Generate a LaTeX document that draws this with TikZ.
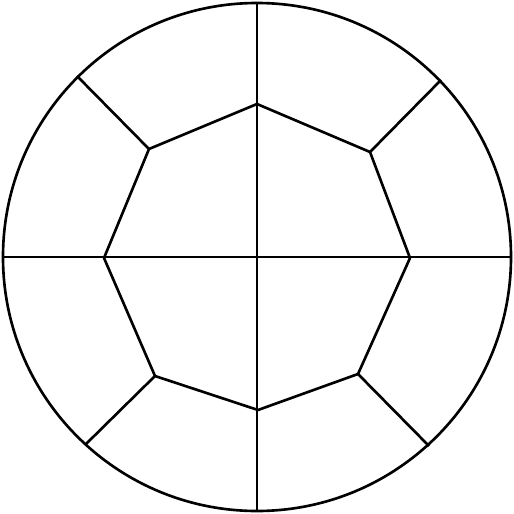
\documentclass[tikz,border=0pt]{standalone}
\usetikzlibrary{calc}

\begin{document}
\begin{tikzpicture}[x=0.02cm,y=-0.02cm,line width=1.5pt,line join=round]
\useasboundingbox (0,0) rectangle (514,514);
\coordinate (O) at (257,257);
% outer ring and the two diameters
\draw (O) circle[radius=254*0.02cm];
\coordinate (N) at (257,3);
\coordinate (S) at (257,511);
\coordinate (W) at (3,257);
\coordinate (E) at (511,257);
\draw (N)--(S) (W)--(E);
% inner octagon
\coordinate (pT) at (257,104);
\coordinate (pUR) at (370,152);
\coordinate (pR) at (410,258);
\coordinate (pLR) at (358,374);
\coordinate (pB) at (258,410);
\coordinate (pLL) at (155,376);
\coordinate (pL) at (104,258);
\coordinate (pUL) at (149,149);
\draw (pT)--(pUR)--(pR)--(pLR)--(pB)--(pLL)--(pL)--(pUL)--cycle;
% diagonal spokes out to the ring
\coordinate (qUL) at (77,76);
\coordinate (qUR) at (441,80);
\coordinate (qLL) at (86,444);
\coordinate (qLR) at (429,446);
\draw (pUL)--(qUL) (pUR)--(qUR) (pLL)--(qLL) (pLR)--(qLR);
\end{tikzpicture}
\end{document}
